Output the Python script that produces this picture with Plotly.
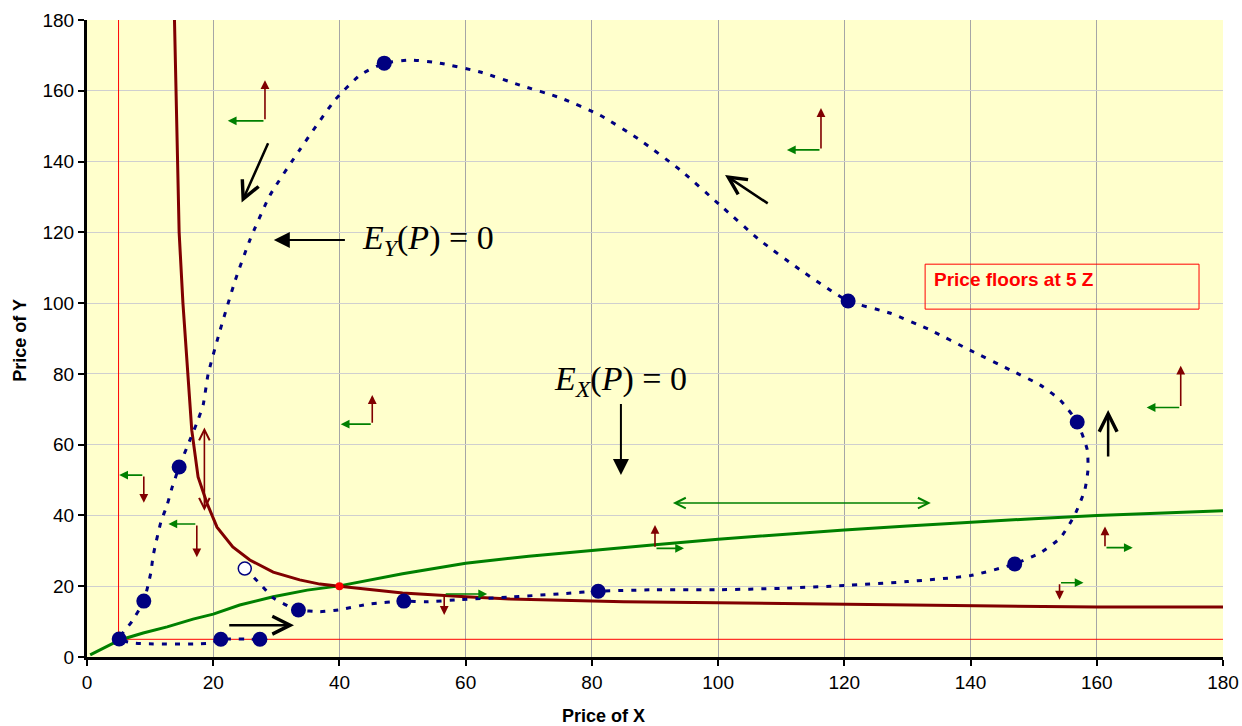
import plotly.graph_objects as go

# ---------------- data ----------------
tick_vals = [0, 20, 40, 60, 80, 100, 120, 140, 160, 180]

# E_X-type curve (dark red)
red_x = [13.8, 14.0, 14.3, 14.6, 15.2, 16.0, 16.6, 17.6, 19.0, 20.6, 23.1, 25.8, 29.5, 33.7, 36.9, 40.0,
         45.0, 50.0, 60.0, 67.0, 85.0, 100.0, 120.0, 140.0, 160.0, 180.0]
red_y = [185, 170, 150, 120, 100, 78.3, 64.1, 50.9, 43.5, 36.7, 31.1, 27.4, 24.0, 21.8, 20.6, 20.0,
         19.0, 18.1, 17.0, 16.4, 15.6, 15.3, 14.8, 14.5, 14.1, 14.1]

# green curve
green_x = [0.5, 5.2, 8.9, 12.7, 16.8, 20.0, 24.2, 29.5, 34.9, 40.0, 50.0, 60.0, 70.0, 80.0, 90.0, 100.0,
           110.0, 120.0, 130.0, 140.0, 150.0, 160.0, 170.0, 180.0]
green_y = [0.6, 4.8, 6.8, 8.5, 10.7, 12.1, 14.7, 17.0, 18.9, 20.1, 23.5, 26.5, 28.5, 30.2, 31.7, 33.3,
           34.7, 35.9, 37.0, 38.1, 39.1, 40.0, 40.7, 41.3]

# price path (dotted)
path_x = [25.0, 27.3, 29.5, 32.2, 33.5, 36.9, 39.8, 44.8, 50.2, 53.6, 59.1, 67.5, 75.4, 81.0,
          90.0, 100.0, 110.0, 120.0, 130.0, 140.0, 147.0,
          151.0, 154.2, 156.5, 158.1, 158.6, 158.5, 156.9,
          154.2, 151.0, 146.3, 139.9, 133.6, 127.2, 120.6,
          113.0, 106.6, 100.3, 94.0, 87.6, 81.3, 75.0, 68.6, 62.3, 55.9, 51.2, 47.1,
          43.3, 39.3, 33.7, 29.0, 25.8, 23.5, 21.1, 19.2, 18.4, 17.4, 16.3, 14.6,
          13.5, 12.7, 11.7, 10.5, 10.1, 9.0,
          7.1, 5.1, 7.5, 19.5, 21.2, 27.4]
path_y = [25.0, 20.9, 16.7, 14.1, 13.3, 12.8, 13.3, 15.0, 15.8, 15.6, 16.2, 17.0, 17.9, 18.6,
          19.0, 19.0, 19.4, 20.2, 21.3, 23.0, 26.3,
          29.4, 33.6, 40.1, 47.2, 52.8, 58.5, 66.4,
          72.6, 76.9, 81.1, 86.7, 92.4, 97.2, 100.6,
          109.4, 117.8, 127.7, 137.6, 146.1, 153.1, 158.0, 161.6, 165.3, 167.8, 168.7, 167.8,
          164.5, 157.4, 143.3, 130.5, 117.8, 106.5, 92.4, 80.0, 71.2, 66.1, 61.3, 53.7,
          48.0, 43.0, 38.1, 28.8, 23.7, 15.8,
          10.0, 5.1, 3.9, 3.9, 5.0, 5.0]

# filled markers on the path
mk_x = [33.5, 50.2, 81.0, 147.0, 156.9, 120.6, 47.1, 14.6, 9.0, 5.1, 21.2, 27.4]
mk_y = [13.3, 15.8, 18.6, 26.3, 66.4, 100.6, 167.8, 53.7, 15.8, 5.1, 5.0, 5.0]

# starting point (open marker)
start_x = [25.0]
start_y = [25.0]

# equilibrium
eq_x = [40.0]
eq_y = [20.0]

# price floor (5 Z)
floor_x = [5, 5, 180]
floor_y = [180, 5, 5]

# black arrows: (tail_x, tail_y, head_x, head_y)
black_open = [(28.8, 145.6, 24.5, 128.4), (108.1, 127.9, 101.1, 136.2),
              (161.8, 56.2, 161.8, 69.8), (22.3, 9.0, 32.8, 9.0)]
black_filled = [(41.1, 117.8, 29.6, 117.8), (84.6, 71.9, 84.6, 51.4)]

# direction pairs: (origin_x, origin_y, green_end_x, red_end_y)
pairs = [(28.2, 151.5, 22.3, 163.0), (116.3, 143.3, 110.9, 155.1), (45.2, 65.8, 40.2, 74.0),
         (173.3, 70.5, 167.9, 82.3), (9.0, 51.4, 5.1, 43.6), (17.4, 37.6, 12.9, 28.2),
         (90.0, 30.7, 94.6, 37.3), (161.3, 30.9, 165.7, 36.9), (154.1, 21.0, 157.9, 16.2),
         (56.6, 17.8, 63.4, 11.9)]

# double arrows
green_double = (92.6, 43.5, 133.7, 43.5)
red_double = (18.6, 65.3, 18.6, 41.3)

NAVY = "#000080"
DRED = "#800000"
GREEN = "#008000"

fig = go.Figure()
fig.add_trace(go.Scatter(x=floor_x, y=floor_y, mode="lines",
                         line=dict(color="#FF0000", width=1), hoverinfo="skip"))
fig.add_trace(go.Scatter(x=green_x, y=green_y, mode="lines",
                         line=dict(color=GREEN, width=3)))
fig.add_trace(go.Scatter(x=red_x, y=red_y, mode="lines",
                         line=dict(color=DRED, width=3)))
fig.add_trace(go.Scatter(x=path_x, y=path_y, mode="lines",
                         line=dict(color=NAVY, width=3, dash="5px,8px", shape="spline", smoothing=0.5)))
fig.add_trace(go.Scatter(x=mk_x, y=mk_y, mode="markers",
                         marker=dict(color=NAVY, size=15, line=dict(width=0))))
fig.add_trace(go.Scatter(x=start_x, y=start_y, mode="markers",
                         marker=dict(color="white", size=13, line=dict(color=NAVY, width=1.5))))
fig.add_trace(go.Scatter(x=eq_x, y=eq_y, mode="markers",
                         marker=dict(color="#FF0000", size=8)))

ann = []
def arrow(tx, ty, hx, hy, color, width, head, size, side="end"):
    ann.append(dict(x=hx, y=hy, ax=tx, ay=ty, xref="x", yref="y", axref="x", ayref="y",
                    text="", showarrow=True, arrowcolor=color, arrowwidth=width,
                    arrowhead=head, startarrowhead=head, arrowsize=size, startarrowsize=size,
                    arrowside=side, standoff=0, startstandoff=0))

for tx, ty, hx, hy in black_open:
    arrow(tx, ty, hx, hy, "black", 2.5, 5, 1.4)
for tx, ty, hx, hy in black_filled:
    arrow(tx, ty, hx, hy, "black", 2, 2, 1.6)
for ox, oy, gx, ry in pairs:
    arrow(ox, oy, gx, oy, GREEN, 1.6, 2, 1.1)
    arrow(ox, oy, ox, ry, DRED, 1.6, 2, 1.1)
arrow(green_double[0], green_double[1], green_double[2], green_double[3], GREEN, 1.6, 5, 1.3, "end+start")
arrow(red_double[0], red_double[1], red_double[2], red_double[3], DRED, 1.6, 5, 1.3, "end+start")

eqfont = dict(family="Liberation Serif", size=34, color="black")
ann.append(dict(x=43.3, y=117.8, xref="x", yref="y", xanchor="left", yanchor="middle", showarrow=False,
                text="<i>E</i><sub><i>Y</i></sub>(<i>P</i>) = 0", font=eqfont))
ann.append(dict(x=73.7, y=78.0, xref="x", yref="y", xanchor="left", yanchor="middle", showarrow=False,
                text="<i>E</i><sub><i>X</i></sub>(<i>P</i>) = 0", font=eqfont))
ann.append(dict(x=133.9, y=106.6, xref="x", yref="y", xanchor="left", yanchor="middle", showarrow=False,
                text="<b>Price floors at 5 Z</b>",
                font=dict(family="Liberation Sans", size=19, color="#FF0000")))
ann.append(dict(x=-0.059, y=0.498, xref="paper", yref="paper", xanchor="center", yanchor="middle",
                textangle=-90, showarrow=False,
                text="<b>Price of Y</b>", font=dict(family="Liberation Sans", size=18, color="black")))
ann.append(dict(x=0.455, y=-0.0926, xref="paper", yref="paper", xanchor="center", yanchor="middle",
                showarrow=False,
                text="<b>Price of X</b>", font=dict(family="Liberation Sans", size=18, color="black")))

shapes = [dict(type="rect", xref="x", yref="y", x0=132.8, x1=176.2, y0=98.3, y1=111.0,
               line=dict(color="#FF0000", width=1), fillcolor="rgba(0,0,0,0)")]

axis_common = dict(range=[0, 180], tickvals=tick_vals, showline=True, linecolor="black", linewidth=3,
                   ticks="outside", ticklen=6, tickwidth=2, tickcolor="black",
                   tickfont=dict(family="Liberation Sans", size=19, color="black"),
                   showgrid=True, gridwidth=1, zeroline=False, automargin=False)

fig.update_layout(
    width=1242, height=726,
    margin=dict(l=87, r=19, t=20, b=69, autoexpand=False),
    paper_bgcolor="white", plot_bgcolor="#FFFFCC",
    showlegend=False,
    annotations=ann, shapes=shapes,
    font=dict(family="Liberation Sans", size=19, color="black"),
    xaxis=dict(axis_common, gridcolor="#A6A6A6"),
    yaxis=dict(axis_common, gridcolor="#CFCFCF"),
)

fig.write_html("out.html")
